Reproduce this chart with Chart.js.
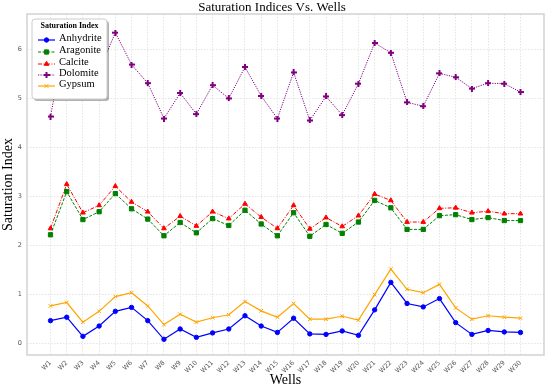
<!DOCTYPE html>
<html>
<head>
<meta charset="utf-8">
<title>Saturation Indices Vs. Wells</title>
<script src="https://cdn.jsdelivr.net/npm/chart.js@4.4.0/dist/chart.umd.min.js"></script>
<style>
  html, body { margin: 0; padding: 0; background: #fff; }
  #wrap { width: 550px; height: 389px; }
</style>
</head>
<body>
<div id="wrap"><canvas id="siChart" width="550" height="389"></canvas></div>
<script>
// Data
const wells = ['W1', 'W2', 'W3', 'W4', 'W5', 'W6', 'W7', 'W8', 'W9', 'W10',
               'W11', 'W12', 'W13', 'W14', 'W15', 'W16', 'W17', 'W18', 'W19', 'W20',
               'W21', 'W22', 'W23', 'W24', 'W25', 'W26', 'W27', 'W28', 'W29', 'W30'];

const anhydrite = [0.47, 0.54, 0.15, 0.36, 0.66, 0.74, 0.47, 0.09, 0.30, 0.13,
                   0.22, 0.30, 0.57, 0.36, 0.23, 0.52, 0.20, 0.19, 0.26, 0.17,
                   0.69, 1.25, 0.82, 0.75, 0.92, 0.43, 0.19, 0.27, 0.24, 0.23];
const aragonite = [2.22, 3.10, 2.53, 2.69, 3.06, 2.75, 2.54, 2.20, 2.47, 2.26,
                   2.55, 2.41, 2.72, 2.44, 2.20, 2.67, 2.19, 2.43, 2.25, 2.48,
                   2.92, 2.77, 2.33, 2.33, 2.61, 2.63, 2.53, 2.57, 2.51, 2.51];
const calcite   = [2.35, 3.25, 2.67, 2.82, 3.21, 2.89, 2.69, 2.35, 2.60, 2.40,
                   2.69, 2.55, 2.85, 2.58, 2.35, 2.82, 2.34, 2.57, 2.39, 2.61,
                   3.05, 2.92, 2.48, 2.48, 2.76, 2.77, 2.67, 2.70, 2.65, 2.65];
const dolomite  = [4.63, 6.40, 5.26, 5.56, 6.34, 5.69, 5.31, 4.59, 5.11, 4.68,
                   5.27, 5.00, 5.64, 5.05, 4.59, 5.53, 4.55, 5.04, 4.66, 5.30,
                   6.13, 5.93, 4.92, 4.84, 5.51, 5.43, 5.20, 5.31, 5.30, 5.13];
const gypsum    = [0.77, 0.84, 0.44, 0.66, 0.96, 1.04, 0.77, 0.39, 0.60, 0.44,
                   0.53, 0.59, 0.86, 0.67, 0.54, 0.82, 0.50, 0.50, 0.56, 0.48,
                   1.00, 1.52, 1.11, 1.04, 1.21, 0.73, 0.50, 0.57, 0.54, 0.52];

const yTicks = [0, 1, 2, 3, 4, 5, 6];

const serif = '"Liberation Serif", "Times New Roman", serif';
const sans = '"DejaVu Sans", sans-serif';

// filled "plus" marker like matplotlib's 'P'
function makePlus(color, size) {
    const c = document.createElement('canvas');
    c.width = size; c.height = size;
    const g = c.getContext('2d');
    const t = Math.round(size / 3);
    g.fillStyle = color;
    g.fillRect(t, 0, size - 2 * t, size);
    g.fillRect(0, t, size, size - 2 * t);
    return c;
}
const plusMarker = makePlus('#800080', 6);

const toPoints = (arr) => arr.map((v, i) => ({ x: i, y: v }));

// Four-sided frame (matplotlib spines)
const frame = {
    id: 'frame',
    beforeDatasetsDraw(chart) {
        const { ctx, chartArea: a } = chart;
        ctx.save();
        ctx.strokeStyle = '#d2d2d2';
        ctx.lineWidth = 1.5;
        ctx.strokeRect(a.left, a.top, a.right - a.left, a.bottom - a.top);
        ctx.restore();
    }
};

// Legend box drawn inside the plot, top left
const legendBox = {
    id: 'legendBox',
    afterDraw(chart) {
        const ctx = chart.ctx;
        const x = 32, y = 19, w = 75, h = 80;
        const rows = [38, 50, 62, 73, 84];
        ctx.save();
        ctx.fillStyle = 'rgba(0,0,0,0.3)';
        ctx.beginPath(); ctx.roundRect(x + 2, y + 2, w, h, 3); ctx.fill();
        ctx.fillStyle = '#ffffff';
        ctx.strokeStyle = '#cccccc';
        ctx.lineWidth = 1;
        ctx.beginPath(); ctx.roundRect(x, y, w, h, 3); ctx.fill(); ctx.stroke();

        ctx.fillStyle = '#000';
        ctx.textBaseline = 'middle';
        ctx.textAlign = 'center';
        ctx.font = 'bold 8px ' + serif;
        ctx.fillText('Saturation Index', x + w / 2, 26);

        chart.data.datasets.forEach((ds, i) => {
            const ly = rows[i];
            ctx.save();
            ctx.strokeStyle = ds.borderColor;
            ctx.lineWidth = ds.borderWidth;
            ctx.setLineDash(ds.borderDash || []);
            ctx.beginPath(); ctx.moveTo(38, ly + 2); ctx.lineTo(55, ly + 2); ctx.stroke();
            ctx.restore();
            if (typeof ds.pointStyle === 'object') {
                ctx.drawImage(ds.pointStyle, 46.5 - 3, ly + 2 - 3);
            } else {
                ctx.fillStyle = ds.pointBackgroundColor;
                ctx.strokeStyle = ds.pointBorderColor;
                ctx.lineWidth = ds.pointBorderWidth;
                Chart.helpers.drawPoint(ctx, {
                    pointStyle: ds.pointStyle, radius: ds.pointRadius,
                    rotation: 0, borderWidth: ds.pointBorderWidth
                }, 46.5, ly + 2);
            }
            ctx.fillStyle = '#000';
            ctx.textAlign = 'left';
            ctx.font = '10.5px ' + serif;
            ctx.fillText(ds.label, 59, ly);
        });
        ctx.restore();
    }
};

function series(label, values, color, dash, style, radius, width) {
    return {
        label: label,
        data: toPoints(values),
        borderColor: color,
        backgroundColor: color,
        borderWidth: width,
        borderDash: dash,
        pointStyle: style,
        pointRadius: radius,
        pointBackgroundColor: color,
        pointBorderColor: color,
        pointBorderWidth: 1,
        tension: 0
    };
}

const ctxSI = document.getElementById('siChart').getContext('2d');
const siChart = new Chart(ctxSI, {
    type: 'line',
    data: {
        datasets: [
            series('Anhydrite', anhydrite, '#0000ff', [], 'circle', 2.2, 1.2),
            series('Aragonite', aragonite, '#008000', [3, 1.5], 'rect', 3, 1),
            series('Calcite', calcite, '#ff0000', [4, 1.5, 1, 1.5], 'triangle', 2.7, 1),
            series('Dolomite', dolomite, '#800080', [1.2, 1.2], plusMarker, 3, 1),
            series('Gypsum', gypsum, '#ffa500', [], 'crossRot', 2.6, 1.2)
        ]
    },
    options: {
        responsive: false,
        animation: false,
        devicePixelRatio: 1,
        layout: { padding: { top: 0, right: 6, left: 0, bottom: 0 } },
        plugins: {
            legend: { display: false },
            tooltip: { enabled: false },
            title: {
                display: true,
                text: 'Saturation Indices Vs. Wells',
                color: '#000',
                font: { family: serif, size: 13, weight: 'normal', lineHeight: 1 },
                padding: { top: 1, bottom: 0 }
            }
        },
        scales: {
            x: {
                type: 'linear',
                min: -1.45,
                max: 30.45,
                afterBuildTicks: (axis) => { axis.ticks = wells.map((w, i) => ({ value: i })); },
                afterFit: (axis) => { axis.height = 34; },
                grid: { color: '#e4e4e4', lineWidth: 1, drawTicks: false },
                border: { display: false, dash: [1.5, 1.5] },
                ticks: {
                    autoSkip: false,
                    minRotation: 45,
                    maxRotation: 45,
                    padding: 4,
                    color: '#555',
                    font: { family: sans, size: 6.5 },
                    callback: (v) => wells[v]
                },
                title: {
                    display: true,
                    text: 'Wells',
                    color: '#000',
                    font: { family: serif, size: 14, lineHeight: 1.2 },
                    padding: { top: 0, bottom: 0 }
                }
            },
            y: {
                min: -0.23,
                max: 6.72,
                afterBuildTicks: (axis) => { axis.ticks = yTicks.map((v) => ({ value: v })); },
                afterFit: (axis) => { axis.width = 27; },
                grid: { color: '#e4e4e4', lineWidth: 1, drawTicks: false },
                border: { display: false, dash: [1.5, 1.5] },
                ticks: {
                    padding: 5,
                    color: '#555',
                    font: { family: sans, size: 6.5 }
                },
                title: {
                    display: true,
                    text: 'Saturation Index',
                    color: '#000',
                    font: { family: serif, size: 14, lineHeight: 1.2 },
                    padding: { top: 0, bottom: 0 }
                }
            }
        }
    },
    plugins: [frame, legendBox]
});
</script>
</body>
</html>
